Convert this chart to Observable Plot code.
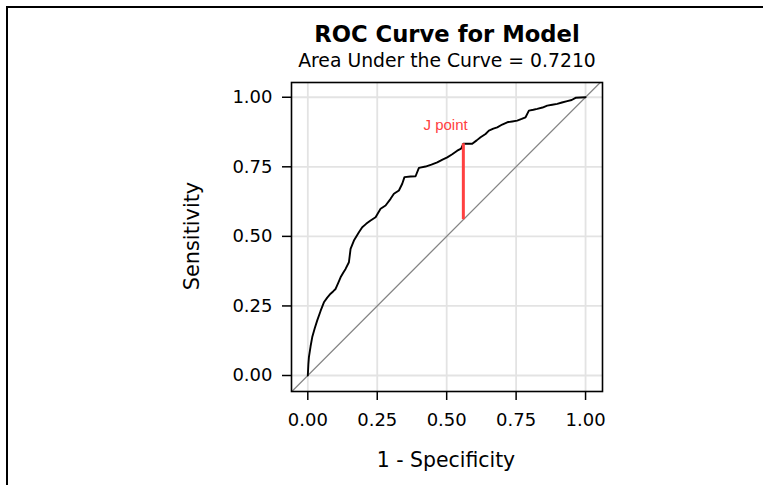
<!DOCTYPE html>
<html>
<head>
<meta charset="utf-8">
<script src="https://cdn.jsdelivr.net/npm/d3@7"></script>
<script src="https://cdn.jsdelivr.net/npm/@observablehq/plot@0.6"></script>
<style>
  html, body { margin: 0; padding: 0; background: #fff; }
  #wrap { position: relative; width: 763px; height: 485px; overflow: hidden; font-family: "DejaVu Sans", sans-serif; color: #000; }
  #border { position: absolute; left: 6px; top: 6px; width: 900px; height: 600px; border-left: 2.5px solid #000; border-top: 2.5px solid #000; }
  .t { position: absolute; white-space: nowrap; transform: translate(-50%, 0); }
  #title { left: 447px; top: 21px; font-size: 22.7px; font-weight: bold; }
  #subtitle { left: 447px; top: 50px; font-size: 18.8px; }
  #xlab { left: 446px; top: 448px; font-size: 20.4px; }
  #ylab { left: 192px; top: 236px; font-size: 20.8px; transform: translate(-50%, -50%) rotate(-90deg); }
  svg { position: absolute; left: 0; top: 0; }
</style>
</head>
<body>
<div id="wrap">
  <div id="border"></div>
  <div id="chart"></div>
  <div class="t" id="title">ROC Curve for Model</div>
  <div class="t" id="subtitle">Area Under the Curve = 0.7210</div>
  <div class="t" id="xlab">1 - Specificity</div>
  <div class="t" id="ylab">Sensitivity</div>
</div>
<script>
// ROC curve (1 - specificity, sensitivity)
const fpr = [0, 0.002, 0.004, 0.010, 0.016, 0.025, 0.034, 0.046, 0.058, 0.070, 0.082, 0.092, 0.100, 0.110, 0.118, 0.128, 0.136, 0.148, 0.154, 0.166, 0.184, 0.196, 0.210, 0.226, 0.244, 0.262, 0.280, 0.298, 0.310, 0.328, 0.340, 0.348, 0.370, 0.388, 0.400, 0.424, 0.445, 0.466, 0.485, 0.502, 0.520, 0.538, 0.552, 0.560, 0.575, 0.592, 0.608, 0.622, 0.640, 0.652, 0.668, 0.682, 0.700, 0.718, 0.736, 0.754, 0.770, 0.784, 0.796, 0.812, 0.826, 0.845, 0.862, 0.880, 0.898, 0.915, 0.934, 0.950, 0.964, 0.982, 1.0];
const tpr = [0, 0.040, 0.066, 0.105, 0.138, 0.170, 0.198, 0.232, 0.263, 0.280, 0.294, 0.303, 0.311, 0.334, 0.353, 0.370, 0.383, 0.407, 0.455, 0.485, 0.515, 0.533, 0.545, 0.557, 0.569, 0.599, 0.611, 0.635, 0.653, 0.665, 0.689, 0.713, 0.715, 0.716, 0.746, 0.751, 0.758, 0.766, 0.776, 0.784, 0.795, 0.808, 0.815, 0.833, 0.833, 0.833, 0.845, 0.856, 0.868, 0.880, 0.887, 0.892, 0.902, 0.910, 0.913, 0.916, 0.922, 0.928, 0.952, 0.955, 0.958, 0.963, 0.970, 0.973, 0.976, 0.981, 0.986, 0.990, 0.998, 0.999, 1.0];

// Youden J point
const jFpr = [0.56];
const jLow = [0.56];
const jHigh = [0.833];
const jLabel = ["J point"];
const jLabelX = [0.496];
const jLabelY = [0.9];

// reference diagonal extent
const diagonal = [-0.2, 1.2];

const ticks = [0, 0.25, 0.5, 0.75, 1];
const tickLabels = ["0.00", "0.25", "0.50", "0.75", "1.00"];

const roc = fpr.map((x, i) => ({x, y: tpr[i]}));
const diag = diagonal.map(v => ({x: v, y: v}));
const jSeg = jFpr.map((x, i) => ({x, y1: jLow[i], y2: jHigh[i]}));
const jText = jLabel.map((t, i) => ({t, x: jLabelX[i], y: jLabelY[i]}));

const chart = Plot.plot({
  width: 763,
  height: 485,
  marginLeft: 291,
  marginRight: 161,
  marginTop: 82,
  marginBottom: 94,
  style: {fontFamily: "DejaVu Sans, sans-serif", background: "transparent", overflow: "visible"},
  x: {domain: [-0.0587, 1.061]},
  y: {domain: [-0.0575, 1.053]},
  marks: [
    Plot.gridX(ticks, {stroke: "#e3e3e3", strokeOpacity: 1, strokeWidth: 1.8}),
    Plot.gridY(ticks, {stroke: "#e3e3e3", strokeOpacity: 1, strokeWidth: 1.8}),
    Plot.line(diag, {x: "x", y: "y", stroke: "#858585", strokeWidth: 1.3, clip: true}),
    Plot.line(roc, {x: "x", y: "y", stroke: "#000", strokeWidth: 1.9}),
    Plot.ruleX(jSeg, {x: "x", y1: "y1", y2: "y2", stroke: "#ff4040", strokeWidth: 3}),
    Plot.text(jText, {x: "x", y: "y", text: "t", fill: "#ff4040", fontSize: 15, fontFamily: "Liberation Sans, Arial, sans-serif"}),
    Plot.frame({stroke: "#000", strokeWidth: 1.6}),
    Plot.axisX(ticks, {tickFormat: (d) => tickLabels[ticks.indexOf(d)], tickSize: 9, tickPadding: 13, fontSize: 18, label: null, stroke: "#000", strokeWidth: 1.5}),
    Plot.axisY(ticks, {tickFormat: (d) => tickLabels[ticks.indexOf(d)], tickSize: 9, tickPadding: 10, fontSize: 18, label: null, stroke: "#000", strokeWidth: 1.5})
  ]
});
document.getElementById("chart").appendChild(chart);
</script>
</body>
</html>
